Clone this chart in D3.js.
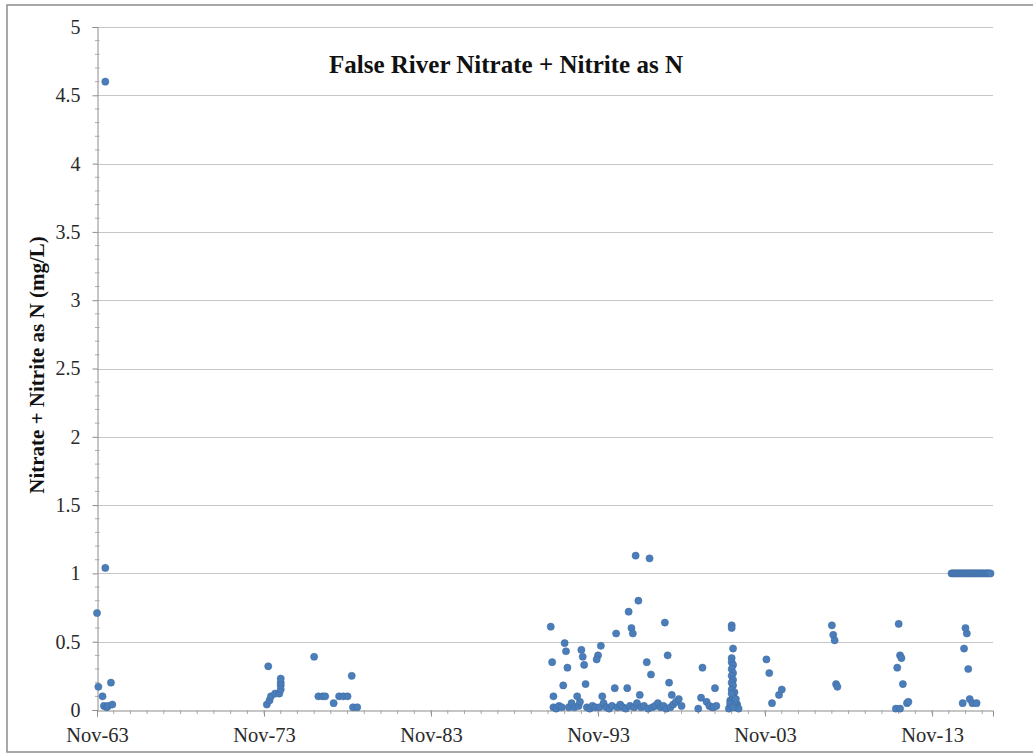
<!DOCTYPE html>
<html><head><meta charset="utf-8">
<script src="https://cdn.jsdelivr.net/npm/d3@7"></script>
<style>body{margin:0;background:#fff}svg{display:block}</style>
</head><body><svg id="c" width="1033" height="755"></svg>
<script>
const title = "False River Nitrate + Nitrite as N";
const yLabel = "Nitrate + Nitrite as N (mg/L)";
const yTicks = [0,0.5,1,1.5,2,2.5,3,3.5,4,4.5,5];
const xTickDates = ["1963-11-01","1973-11-01","1983-11-01","1993-11-01","2003-11-01","2013-11-01"];
const xDomain = ["1963-11-01","2017-06-25"];

const sampleDates = [
 "1963-11","1963-12","1964-05","1964-05","1964-03","1964-04","1964-06","1964-07","1964-09","1964-10",
 "1974-01","1974-03","1974-04","1974-07","1974-10","1974-11","1974-11","1974-11","1974-11","1974-02",
 "1976-11","1977-02","1977-05","1977-07","1978-01","1978-05","1978-08","1978-11","1979-02","1979-03","1979-06",
 "1991-01","1991-02","1991-03","1991-11","1991-12","1992-01","1991-10","1992-08","1992-11","1992-12","1993-01","1993-02",
 "1994-01","1993-11","1993-10","1994-02","1994-12","1994-11","1995-08","1995-09","1995-11","1995-12","1996-02","1996-04",
 "1996-05","1996-10","1996-12","1997-01","1997-11","1998-01","1998-02","1998-04",
 "1991-03","1991-05","1991-07","1991-09","1992-02","1992-04","1992-06","1992-09","1992-10","1993-03","1993-05","1993-07",
 "1993-09","1993-12","1994-03","1994-05","1994-07","1994-09","1995-01","1995-03","1995-05","1995-07","1995-10","1996-01",
 "1996-03","1996-06","1996-08","1996-11","1997-02","1997-04","1997-06","1997-08","1997-10","1997-12","1998-03","1998-05",
 "1998-07","1998-09","1998-11",
 "2000-02","2000-01","2000-05","2000-07","2000-09","2000-10","2000-11","2000-12","1999-11",
 "2001-11","2001-11","2001-12","2001-11","2001-11","2001-12","2001-11","2001-12","2001-11","2001-12","2001-11","2001-12",
 "2001-11","2002-01","2001-12","2002-01","2001-11","2002-02","2001-10","2002-01","2001-09","2002-03","2001-10","2002-02",
 "2001-12","2002-03","2001-11","2002-04","2001-10","2002-01","2001-12","2002-02",
 "2003-12","2004-02","2004-04","2004-09","2004-11",
 "2007-11","2007-12","2008-01","2008-02","2008-03",
 "2011-11","2011-12","2012-01","2011-10","2012-02","2011-09","2011-12","2012-05","2012-06",
 "2015-10","2015-12","2015-11","2016-01","2015-09","2016-02","2016-04","2016-07",
 "2015-01","2015-02","2015-03","2015-04","2015-05","2015-06","2015-07","2015-08","2015-09","2015-10","2015-11","2015-12",
 "2016-01","2016-02","2016-03","2016-04","2016-05","2016-06","2016-07","2016-08","2016-09","2016-10","2016-11","2016-12",
 "2017-01","2017-02","2017-03","2017-04","2017-05"
];
const nitrateValues = [
 0.71,0.17,4.6,1.04,0.1,0.03,0.02,0.03,0.2,0.04,
 0.04,0.07,0.1,0.12,0.12,0.15,0.18,0.2,0.23,0.32,
 0.39,0.1,0.1,0.1,0.05,0.1,0.1,0.1,0.25,0.02,0.02,
 0.61,0.35,0.1,0.49,0.43,0.31,0.18,0.1,0.44,0.39,0.33,0.19,
 0.47,0.4,0.37,0.1,0.56,0.16,0.16,0.72,0.6,0.56,1.13,0.8,
 0.11,0.35,1.11,0.26,0.64,0.4,0.2,0.11,
 0.02,0.01,0.03,0.02,0.02,0.05,0.02,0.03,0.06,0.02,0.01,0.03,
 0.02,0.02,0.05,0.02,0.01,0.03,0.02,0.04,0.02,0.01,0.03,0.02,
 0.05,0.02,0.03,0.01,0.02,0.03,0.05,0.02,0.03,0.01,0.02,0.04,
 0.06,0.08,0.03,
 0.31,0.09,0.06,0.03,0.02,0.02,0.16,0.03,0.01,
 0.62,0.6,0.45,0.38,0.35,0.33,0.3,0.27,0.25,0.22,0.2,0.18,
 0.15,0.13,0.1,0.08,0.06,0.05,0.03,0.02,0.01,0.04,0.07,0.03,
 0.09,0.02,0.12,0.01,0.05,0.06,0.02,0.08,
 0.37,0.27,0.05,0.11,0.15,
 0.62,0.55,0.51,0.19,0.17,
 0.63,0.4,0.38,0.31,0.19,0.01,0.01,0.05,0.06,
 0.45,0.56,0.6,0.3,0.05,0.08,0.05,0.05,
 1,1,1,1,1,1,1,1,1,1,1,1,
 1,1,1,1,1,1,1,1,1,1,1,1,
 1,1,1,1,1
];

const svg = d3.select("#c");
const L = 97, T = 27, R = 993, B = 710;
const parseM = d3.timeParse("%Y-%m"), parseD = d3.timeParse("%Y-%m-%d");
const x = d3.scaleTime().domain(xDomain.map(parseD)).range([L, R]);
const y = d3.scaleLinear().domain([0, 5]).range([B, T]);

// chart border
svg.append("rect").attr("x", 7).attr("y", 5).attr("width", 1040).attr("height", 747)
  .attr("fill", "#fff").attr("stroke", "#8c8c8c").attr("stroke-width", 1.5);

// gridlines
svg.append("g").selectAll("line").data(yTicks.filter(d => d > 0)).join("line")
  .attr("x1", L).attr("x2", R).attr("y1", d => Math.round(y(d)) + 0.5).attr("y2", d => Math.round(y(d)) + 0.5)
  .attr("stroke", "#c6c6c6").attr("stroke-width", 1.2);

// y axis
const yAxis = d3.axisLeft(y).tickValues(yTicks).tickSize(5).tickPadding(12).tickFormat(d => d);
const gy = svg.append("g").attr("transform", `translate(${L + 0.5},0)`).call(yAxis);
gy.select(".domain").attr("stroke", "#8c8c8c");
gy.selectAll(".tick line").attr("stroke", "#8c8c8c");
gy.selectAll("text").attr("font-family", "Liberation Serif").attr("font-size", 20).attr("fill", "#2a2a2a");
// minor y ticks
svg.append("g").selectAll("line").data(d3.range(0, 50).map(i => i / 10).filter(v => Math.abs(v * 2 - Math.round(v * 2)) > 1e-6)).join("line")
  .attr("x1", L - 2).attr("x2", L + 2.5).attr("y1", d => y(d)).attr("y2", d => y(d))
  .attr("stroke", "#a8a8a8");

// x axis
const xAxis = d3.axisBottom(x).tickValues(xTickDates.map(parseD)).tickSize(6).tickPadding(11)
  .tickFormat(d3.timeFormat("%b-%y"));
const gx = svg.append("g").attr("transform", `translate(0,${B + 0.5})`).call(xAxis);
gx.select(".domain").attr("stroke", "#8c8c8c");
gx.selectAll(".tick line").attr("stroke", "#8c8c8c");
gx.selectAll("text").attr("font-family", "Liberation Serif").attr("font-size", 20.5).attr("fill", "#2a2a2a");
// minor x ticks (yearly)
svg.append("g").selectAll("line").data(d3.range(1964, 2018).map(yr => new Date(yr, 10, 1)).filter(d => d <= x.domain()[1])).join("line")
  .attr("x1", d => x(d)).attr("x2", d => x(d)).attr("y1", B).attr("y2", B + 4)
  .attr("stroke", "#a8a8a8");

// points
const pts = sampleDates.map((d, i) => ({ date: parseM(d), value: nitrateValues[i] }));
svg.append("g").selectAll("circle").data(pts).join("circle")
  .attr("cx", d => x(d.date)).attr("cy", d => y(d.value)).attr("r", 3.6)
  .attr("fill", "#4a7ebb").attr("stroke", "#41689c").attr("stroke-width", 0.5);

// title
svg.append("text").attr("x", 506).attr("y", 73).attr("text-anchor", "middle")
  .attr("font-family", "Liberation Serif").attr("font-weight", "bold").attr("font-size", 25)
  .attr("fill", "#111").text(title);

// y label
svg.append("text").attr("transform", "translate(44,365) rotate(-90)").attr("text-anchor", "middle")
  .attr("font-family", "Liberation Serif").attr("font-weight", "bold").attr("font-size", 21)
  .attr("fill", "#111").text(yLabel);
</script></body></html>
